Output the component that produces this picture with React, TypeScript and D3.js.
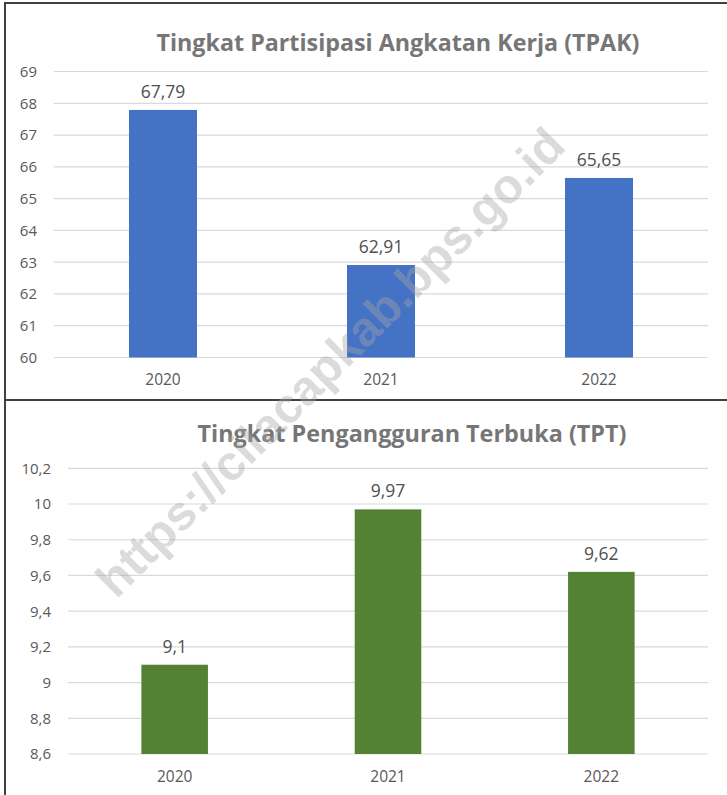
import React from 'react';
import * as d3 from 'd3';

const years = ['2020', '2021', '2022'];
const tpakValues = [67.79, 62.91, 65.65];
const tptValues = [9.1, 9.97, 9.62];
const tpakTicks = [60, 61, 62, 63, 64, 65, 66, 67, 68, 69];
const tptTicks = [8.6, 8.8, 9, 9.2, 9.4, 9.6, 9.8, 10, 10.2];
const tpakTitle = 'Tingkat Partisipasi Angkatan Kerja (TPAK)';
const tptTitle = 'Tingkat Pengangguran Terbuka (TPT)';
const watermark = 'https://cilacapkab.bps.go.id';

const locale = d3.formatLocale({ decimal: ',', thousands: '.', grouping: [3], currency: ['', ''] });
const fmt = locale.format('~f');

const FONT = "'Open Sans', 'Noto Sans', sans-serif";

type PanelProps = {
  title: string;
  titleX: number;
  titleY: number;
  titleW: number;
  values: number[];
  ticks: number[];
  domain: [number, number];
  yRange: [number, number];
  xRange: [number, number];
  color: string;
  labelRight: number;
  catY: number;
};

function Panel(p: PanelProps) {
  const y = d3.scaleLinear().domain(p.domain).range(p.yRange);
  const x = d3.scaleBand<string>().domain(years).range(p.xRange).paddingInner(0.688).paddingOuter(0.344);
  return (
    <g>
      <text
        x={p.titleX}
        y={p.titleY}
        textAnchor="middle"
        fontFamily={FONT}
        fontWeight={700}
        fontSize={23}
        fill="#767676"
        textLength={p.titleW}
        lengthAdjust="spacingAndGlyphs"
      >
        {p.title}
      </text>
      {p.ticks.map((t) => (
        <g key={t}>
          <line x1={p.xRange[0]} x2={p.xRange[1]} y1={y(t)} y2={y(t)} stroke="#d9d9d9" strokeWidth={1.2} />
          <text x={p.labelRight} y={y(t)} dy="0.36em" textAnchor="end" fontFamily={FONT} fontSize={15} fill="#595959">
            {fmt(t)}
          </text>
        </g>
      ))}
      {years.map((yr, i) => (
        <g key={yr}>
          <rect x={x(yr)} y={y(p.values[i])} width={x.bandwidth()} height={y(p.domain[0]) - y(p.values[i])} fill={p.color} />
          <text x={(x(yr) as number) + x.bandwidth() / 2} y={y(p.values[i]) - 12} textAnchor="middle" fontFamily={FONT} fontSize={17.5} fill="#505050">
            {fmt(p.values[i])}
          </text>
          <text x={(x(yr) as number) + x.bandwidth() / 2} y={p.catY} textAnchor="middle" fontFamily={FONT} fontSize={15.5} fill="#595959">
            {yr}
          </text>
        </g>
      ))}
    </g>
  );
}

export default function App() {
  return (
    <svg width={727} height={795} style={{ position: 'absolute', left: 0, top: 0, background: '#fff' }}>
      <rect x={0} y={0} width={727} height={795} fill="#fff" />
      <Panel
        title={tpakTitle}
        titleX={398}
        titleY={51}
        titleW={483}
        values={tpakValues}
        ticks={tpakTicks}
        domain={[60, 69]}
        yRange={[357.5, 71.5]}
        xRange={[54, 708]}
        color="#4472c4"
        labelRight={37}
        catY={385}
      />
      <Panel
        title={tptTitle}
        titleX={412}
        titleY={442}
        titleW={429}
        values={tptValues}
        ticks={tptTicks}
        domain={[8.6, 10.2]}
        yRange={[754, 468.3]}
        xRange={[68, 708]}
        color="#548235"
        labelRight={51}
        catY={782}
      />
      <line x1={4} x2={727} y1={3} y2={3} stroke="#404040" strokeWidth={2} />
      <line x1={5} x2={5} y1={2} y2={795} stroke="#404040" strokeWidth={2} />
      <line x1={4} x2={727} y1={400} y2={400} stroke="#404040" strokeWidth={2} />
      <text
        transform="translate(330,362) rotate(-45)"
        textAnchor="middle"
        dy="0.35em"
        fontFamily="'Liberation Sans', Arial, sans-serif"
        fontWeight={700}
        fontSize={48.5}
        fill="#a6a6a6"
        opacity={0.4}
      >
        {watermark}
      </text>
    </svg>
  );
}
